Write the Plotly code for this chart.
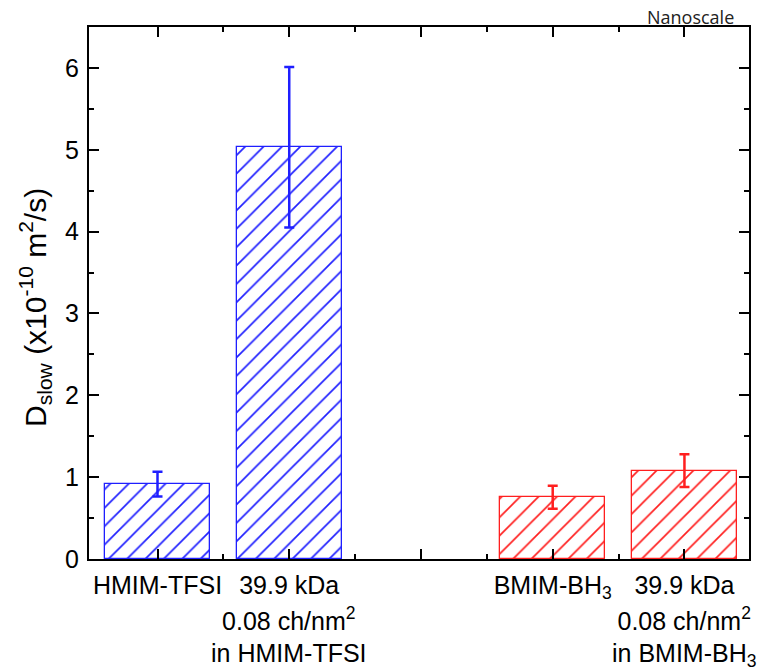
import plotly.graph_objects as go

# ---- data ----
positions = [1, 2, 4, 5]
first_lines = ["HMIM-TFSI", "39.9 kDa", "BMIM-BH<sub>3</sub>", "39.9 kDa"]
extra_lines = ["", "0.08 ch/nm<sup>2</sup><br>in HMIM-TFSI", "", "0.08 ch/nm<sup>2</sup><br>in BMIM-BH<sub>3</sub>"]
d_slow = [0.915, 5.03, 0.755, 1.08]
d_err = [0.15, 0.98, 0.14, 0.20]
colors = ["#1f1fff", "#1f1fff", "#ff1f1f", "#ff1f1f"]

FONT = "Liberation Sans, Arial, sans-serif"

fig = go.Figure()
for x, v, e, c in zip(positions, d_slow, d_err, colors):
    fig.add_trace(go.Bar(
        x=[x], y=[v], width=0.8,
        marker=dict(color="white", line=dict(color=c, width=1.3),
                    pattern=dict(shape="/", fgcolor=c, bgcolor="white", fgopacity=1,
                                 size=13, solidity=0.13)),
        error_y=dict(type="data", array=[e], visible=True, color=c, thickness=2.5, width=5),
        showlegend=False,
    ))

fig.update_layout(
    width=762, height=668,
    margin=dict(l=89, r=11, t=27, b=109),
    plot_bgcolor="white", paper_bgcolor="white",
    font=dict(family=FONT, size=25, color="black"),
    bargap=0,
)
fig.update_xaxes(
    range=[0.48, 5.49], showgrid=False, zeroline=False,
    showline=True, linecolor="black", linewidth=2, mirror="ticks",
    ticks="inside", ticklen=10, tickwidth=2, tickcolor="black",
    tickvals=[1, 2, 3, 4, 5], ticktext=[first_lines[0], first_lines[1], "", first_lines[2], first_lines[3]],
    tickfont=dict(size=25), ticklabelstandoff=3,
    minor=dict(ticks="inside", ticklen=5, tickwidth=2, tickcolor="black", tickvals=[1.5, 2.5, 3.5, 4.5]),
)
fig.update_yaxes(
    range=[0, 6.5], showgrid=False, zeroline=False,
    showline=True, linecolor="black", linewidth=2, mirror="ticks",
    ticks="inside", ticklen=10, tickwidth=2, tickcolor="black",
    dtick=1, tickfont=dict(size=25), ticklabelstandoff=3,
    minor=dict(ticks="inside", ticklen=5, tickwidth=2, tickcolor="black", dtick=0.5),
)

fig.add_annotation(x=0, xref="paper", xshift=-54, xanchor="center",
                   y=0.472, yref="paper", yanchor="middle", textangle=-90,
                   text="D<sub>slow</sub> (x10<sup>-10</sup> m<sup>2</sup>/s)",
                   showarrow=False, font=dict(size=30))

for x, t in zip(positions, extra_lines):
    if t:
        fig.add_annotation(x=x, xref="x", y=0, yref="paper", yanchor="top", yshift=-42,
                           text=t, showarrow=False, font=dict(size=25), align="center")

fig.add_annotation(x=0.912, xref="paper", xanchor="center", y=1, yref="paper", yanchor="bottom", yshift=-4,
                   text="Nanoscale", showarrow=False,
                   font=dict(family="Open Sans, sans-serif", size=18, color="#222"))

fig.write_html("out.html", config={"displayModeBar": False},
               post_script="document.body.style.margin='0';")
